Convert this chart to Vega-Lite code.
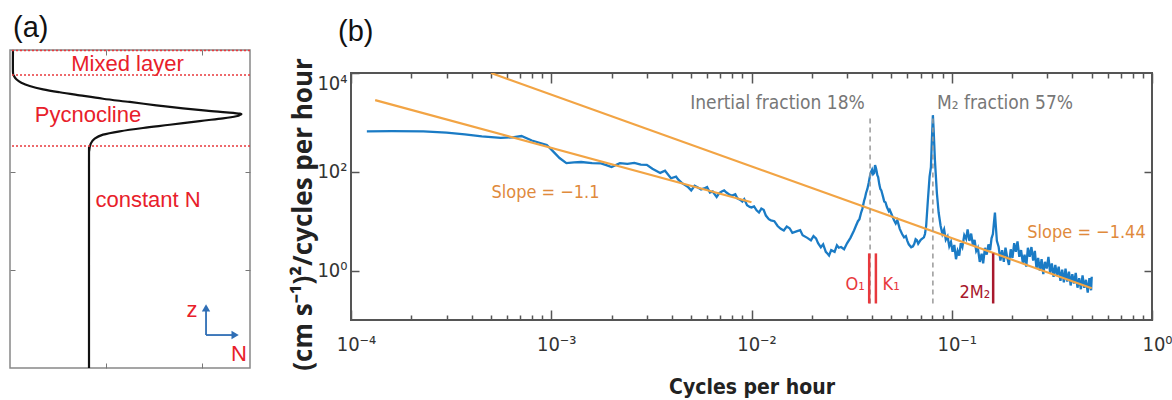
{
  "$schema": "https://vega.github.io/schema/vega-lite/v6.json",
  "background": "white",
  "padding": {"left": 7, "top": 12, "right": 0, "bottom": 0},
  "spacing": 36,
  "config": {
    "axis": {"domain": false, "grid": false},
    "view": {"stroke": "#777"}
  },
  "datasets": {
    "nprofile": [
      {"z": 3.25, "N": 0.031}, {"z": 3.025, "N": 0.031}, {"z": 2.984, "N": 0.042}, {"z": 2.951, "N": 0.066},
      {"z": 2.916, "N": 0.118}, {"z": 2.882, "N": 0.205}, {"z": 2.848, "N": 0.344}, {"z": 2.818, "N": 0.518},
      {"z": 2.787, "N": 0.726}, {"z": 2.752, "N": 0.969}, {"z": 2.719, "N": 1.247}, {"z": 2.685, "N": 1.524},
      {"z": 2.654, "N": 1.802}, {"z": 2.630, "N": 2.045}, {"z": 2.613, "N": 2.253}, {"z": 2.599, "N": 2.396},
      {"z": 2.589, "N": 2.399}, {"z": 2.573, "N": 2.357}, {"z": 2.552, "N": 2.219}, {"z": 2.524, "N": 1.976},
      {"z": 2.486, "N": 1.664}, {"z": 2.453, "N": 1.385}, {"z": 2.419, "N": 1.143}, {"z": 2.385, "N": 0.969},
      {"z": 2.344, "N": 0.882}, {"z": 2.293, "N": 0.841}, {"z": 2.225, "N": 0.826}, {"z": 2.037, "N": 0.823},
      {"z": 0.0, "N": 0.823}
    ],
    "layers_a": [{"z": 3.245}, {"z": 2.994}, {"z": 2.269}],
    "text_a": [
      {"label": "Mixed layer", "N": 1.224, "z": 3.107},
      {"label": "Pycnocline", "N": 0.8125, "z": 2.586},
      {"label": "constant N", "N": 1.4375, "z": 1.717},
      {"label": "z", "N": 1.896, "z": 0.593},
      {"label": "N", "N": 2.385, "z": 0.143}
    ],
    "shafts": [
      {"N1": 2.042, "N2": 2.042, "z1": 0.337, "z2": 0.6},
      {"N1": 2.042, "N2": 2.33, "z1": 0.337, "z2": 0.337}
    ],
    "heads": [
      {"dir": "up", "N": 2.042, "z": 0.615},
      {"dir": "right", "N": 2.345, "z": 0.337}
    ],
    "spectrum": [
      {"f": 0.00012, "p": 660}, {"f": 0.00016, "p": 665}, {"f": 0.00023, "p": 660}, {"f": 0.0003, "p": 620},
      {"f": 0.00037, "p": 575}, {"f": 0.00045, "p": 520}, {"f": 0.00056, "p": 485}, {"f": 0.00064, "p": 500},
      {"f": 0.00071, "p": 530}, {"f": 0.0008, "p": 430}, {"f": 0.00095, "p": 350}, {"f": 0.00103, "p": 250},
      {"f": 0.0011, "p": 190}, {"f": 0.00119, "p": 150}, {"f": 0.0013, "p": 155}, {"f": 0.00141, "p": 158},
      {"f": 0.0016, "p": 150}, {"f": 0.00177, "p": 148}, {"f": 0.0019, "p": 135}, {"f": 0.002, "p": 125},
      {"f": 0.0022, "p": 150}, {"f": 0.0024, "p": 145}, {"f": 0.0026, "p": 152}, {"f": 0.0028, "p": 140},
      {"f": 0.003, "p": 138}, {"f": 0.0032, "p": 115}, {"f": 0.0035, "p": 95}, {"f": 0.0037, "p": 105},
      {"f": 0.00396, "p": 74}, {"f": 0.0042, "p": 80}, {"f": 0.0043, "p": 70}, {"f": 0.0045, "p": 59},
      {"f": 0.0048, "p": 50}, {"f": 0.005, "p": 42}, {"f": 0.0052, "p": 52}, {"f": 0.0054, "p": 48},
      {"f": 0.0056, "p": 44}, {"f": 0.0058, "p": 46}, {"f": 0.006, "p": 49}, {"f": 0.0062, "p": 38},
      {"f": 0.0064, "p": 40}, {"f": 0.0067, "p": 31}, {"f": 0.0069, "p": 37}, {"f": 0.0071, "p": 40},
      {"f": 0.0073, "p": 42}, {"f": 0.0075, "p": 38}, {"f": 0.0078, "p": 34}, {"f": 0.008, "p": 33},
      {"f": 0.0083, "p": 35}, {"f": 0.0085, "p": 29}, {"f": 0.0088, "p": 27}, {"f": 0.009, "p": 25},
      {"f": 0.0092, "p": 28}, {"f": 0.0095, "p": 21}, {"f": 0.0098, "p": 19.5}, {"f": 0.01, "p": 19},
      {"f": 0.0103, "p": 20}, {"f": 0.0106, "p": 16.6}, {"f": 0.0109, "p": 15}, {"f": 0.0112, "p": 18},
      {"f": 0.0115, "p": 17}, {"f": 0.0118, "p": 13}, {"f": 0.0122, "p": 11}, {"f": 0.0125, "p": 10.4},
      {"f": 0.013, "p": 10}, {"f": 0.0135, "p": 8}, {"f": 0.014, "p": 7}, {"f": 0.0145, "p": 6.5},
      {"f": 0.015, "p": 7.8}, {"f": 0.0155, "p": 7.2}, {"f": 0.016, "p": 5.8}, {"f": 0.0169, "p": 6.3},
      {"f": 0.0175, "p": 6.6}, {"f": 0.018, "p": 5.2}, {"f": 0.019, "p": 4.6}, {"f": 0.0198, "p": 4.1},
      {"f": 0.0204, "p": 5.0}, {"f": 0.021, "p": 4.5}, {"f": 0.0215, "p": 3.6}, {"f": 0.0222, "p": 2.96},
      {"f": 0.0228, "p": 3.4}, {"f": 0.0235, "p": 2.4}, {"f": 0.024, "p": 2.2}, {"f": 0.0244, "p": 2.03},
      {"f": 0.025, "p": 2.6}, {"f": 0.026, "p": 2.4}, {"f": 0.0267, "p": 3.25}, {"f": 0.0273, "p": 2.9},
      {"f": 0.028, "p": 3.0}, {"f": 0.029, "p": 2.7}, {"f": 0.03, "p": 3.56}, {"f": 0.0312, "p": 4.6},
      {"f": 0.0325, "p": 6.5}, {"f": 0.0332, "p": 8}, {"f": 0.034, "p": 10}, {"f": 0.0346, "p": 11},
      {"f": 0.0352, "p": 14.5}, {"f": 0.0358, "p": 18}, {"f": 0.0365, "p": 26}, {"f": 0.0369, "p": 30},
      {"f": 0.0373, "p": 36.8}, {"f": 0.0379, "p": 45}, {"f": 0.0385, "p": 60}, {"f": 0.039, "p": 80},
      {"f": 0.0395, "p": 98}, {"f": 0.04, "p": 110}, {"f": 0.0405, "p": 90}, {"f": 0.041, "p": 95},
      {"f": 0.0414, "p": 136}, {"f": 0.0418, "p": 120}, {"f": 0.0422, "p": 100}, {"f": 0.0425, "p": 85},
      {"f": 0.0429, "p": 78}, {"f": 0.0435, "p": 55}, {"f": 0.044, "p": 45}, {"f": 0.0445, "p": 42},
      {"f": 0.0449, "p": 36.8}, {"f": 0.0455, "p": 30}, {"f": 0.046, "p": 25}, {"f": 0.0467, "p": 24},
      {"f": 0.0475, "p": 19.1}, {"f": 0.0485, "p": 16}, {"f": 0.049, "p": 17}, {"f": 0.05, "p": 14},
      {"f": 0.0515, "p": 10.4}, {"f": 0.0525, "p": 9}, {"f": 0.0535, "p": 10.5}, {"f": 0.055, "p": 7},
      {"f": 0.0565, "p": 5.5}, {"f": 0.0578, "p": 4.71}, {"f": 0.059, "p": 5}, {"f": 0.06, "p": 4},
      {"f": 0.061, "p": 3.4}, {"f": 0.0627, "p": 2.96}, {"f": 0.064, "p": 3.1}, {"f": 0.065, "p": 3.5},
      {"f": 0.066, "p": 4.3}, {"f": 0.067, "p": 4.1}, {"f": 0.068, "p": 3.5}, {"f": 0.07, "p": 4.2},
      {"f": 0.0715, "p": 4.5}, {"f": 0.0726, "p": 4.7}, {"f": 0.0735, "p": 5.5}, {"f": 0.0745, "p": 8},
      {"f": 0.076, "p": 26.5}, {"f": 0.0775, "p": 80}, {"f": 0.0787, "p": 124}, {"f": 0.0795, "p": 400},
      {"f": 0.0805, "p": 1400}, {"f": 0.0812, "p": 700}, {"f": 0.0824, "p": 172}, {"f": 0.0843, "p": 36.8},
      {"f": 0.086, "p": 15},
      {"f": 0.088, "p": 8}, {"f": 0.0898, "p": 5.5}, {"f": 0.0916, "p": 6.8}, {"f": 0.0934, "p": 4.2},
      {"f": 0.0953, "p": 4.9}, {"f": 0.0972, "p": 3.1}, {"f": 0.0991, "p": 3.8}, {"f": 0.101, "p": 2.4},
      {"f": 0.103, "p": 3.3}, {"f": 0.105, "p": 1.7}, {"f": 0.107, "p": 2.5}, {"f": 0.109, "p": 2.0},
      {"f": 0.111, "p": 3.6}, {"f": 0.113, "p": 3.0}, {"f": 0.1155, "p": 5.2}, {"f": 0.118, "p": 4.4},
      {"f": 0.12, "p": 6.8}, {"f": 0.1225, "p": 4.0}, {"f": 0.125, "p": 5.6}, {"f": 0.1275, "p": 3.3},
      {"f": 0.13, "p": 4.2}, {"f": 0.1325, "p": 2.5}, {"f": 0.135, "p": 2.9}, {"f": 0.138, "p": 1.5},
      {"f": 0.141, "p": 2.2}, {"f": 0.1435, "p": 1.4}, {"f": 0.1465, "p": 2.9}, {"f": 0.1495, "p": 2.1},
      {"f": 0.1525, "p": 3.4}, {"f": 0.1555, "p": 2.6}, {"f": 0.158, "p": 4.5}, {"f": 0.1605, "p": 5.5},
      {"f": 0.1625, "p": 9.5}, {"f": 0.1643, "p": 15}, {"f": 0.166, "p": 8}, {"f": 0.168, "p": 4.0},
      {"f": 0.1715, "p": 3.0}, {"f": 0.175, "p": 1.6}, {"f": 0.1785, "p": 2.6}, {"f": 0.182, "p": 1.5},
      {"f": 0.1855, "p": 2.9}, {"f": 0.189, "p": 1.9}, {"f": 0.193, "p": 1.3}, {"f": 0.197, "p": 2.7},
      {"f": 0.201, "p": 1.8}, {"f": 0.205, "p": 3.6}, {"f": 0.209, "p": 2.4}, {"f": 0.213, "p": 3.9},
      {"f": 0.2175, "p": 1.9}, {"f": 0.222, "p": 2.6}, {"f": 0.2265, "p": 1.4}, {"f": 0.231, "p": 2.1},
      {"f": 0.2355, "p": 1.2}, {"f": 0.24, "p": 2.9}, {"f": 0.245, "p": 1.9}, {"f": 0.25, "p": 3.0},
      {"f": 0.255, "p": 1.6}, {"f": 0.26, "p": 2.5}, {"f": 0.265, "p": 1.1}, {"f": 0.27, "p": 1.8},
      {"f": 0.2755, "p": 1.0}, {"f": 0.281, "p": 1.7}, {"f": 0.2865, "p": 0.85}, {"f": 0.292, "p": 1.5},
      {"f": 0.298, "p": 1.1}, {"f": 0.304, "p": 1.9}, {"f": 0.31, "p": 0.9}, {"f": 0.316, "p": 1.4},
      {"f": 0.3225, "p": 0.75}, {"f": 0.329, "p": 1.3}, {"f": 0.3355, "p": 0.8}, {"f": 0.342, "p": 1.2},
      {"f": 0.349, "p": 0.62}, {"f": 0.356, "p": 1.05}, {"f": 0.363, "p": 0.58}, {"f": 0.37, "p": 1.1},
      {"f": 0.3775, "p": 0.6}, {"f": 0.385, "p": 0.95}, {"f": 0.3925, "p": 0.5}, {"f": 0.4, "p": 0.85},
      {"f": 0.408, "p": 0.55}, {"f": 0.416, "p": 0.9}, {"f": 0.4245, "p": 0.45}, {"f": 0.433, "p": 0.7},
      {"f": 0.4415, "p": 0.42}, {"f": 0.45, "p": 0.8}, {"f": 0.459, "p": 0.45}, {"f": 0.468, "p": 0.65},
      {"f": 0.4775, "p": 0.36}, {"f": 0.487, "p": 0.7}, {"f": 0.4965, "p": 0.4}, {"f": 0.5, "p": 0.75}
    ],
    "fits": [
      {"fit": "low", "f": 0.000132, "p": 2830}, {"fit": "low", "f": 0.01, "p": 24.2},
      {"fit": "high", "f": 0.0005, "p": 10000}, {"fit": "high", "f": 0.5, "p": 0.44}
    ],
    "dashed": [
      {"f": 0.0391, "p1": 0.216, "p2": 1450},
      {"f": 0.0805, "p1": 0.216, "p2": 1450}
    ],
    "tidal": [
      {"c": "O1", "f": 0.0387, "p1": 0.216, "p2": 2.23},
      {"c": "K1", "f": 0.0418, "p1": 0.216, "p2": 2.23},
      {"c": "2M2", "f": 0.161, "p1": 0.216, "p2": 2.23}
    ],
    "tidal_labels": [
      {"c": "O1", "label": "O₁", "f": 0.0329, "p": 0.5},
      {"c": "K1", "label": "K₁", "f": 0.0498, "p": 0.5},
      {"c": "2M2", "label": "2M₂", "f": 0.1305, "p": 0.344}
    ],
    "annot_gray": [
      {"label": "Inertial fraction 18%", "f": 0.01349, "p": 2450},
      {"label": "M₂ fraction 57%", "f": 0.1845, "p": 2450}
    ],
    "annot_orange": [
      {"label": "Slope = −1.1", "f": 0.000936, "p": 36.8},
      {"label": "Slope = −1.44", "f": 0.471, "p": 5.69}
    ]
  },
  "hconcat": [
    {
      "title": {"text": "(a)", "anchor": "start", "frame": "group", "dx": 3, "offset": 3, "fontSize": 29, "font": "Liberation Sans", "fontWeight": "normal", "color": "#111"},
      "width": 240,
      "height": 318,
      "view": {"stroke": "#888", "strokeWidth": 1.5},
      "resolve": {"axis": {"x": "independent", "y": "independent"}},
      "layer": [
        {
          "data": {"name": "nprofile"},
          "mark": {"type": "line", "color": "#111", "strokeWidth": 2.2, "interpolate": "cardinal"},
          "encoding": {
            "x": {"field": "N", "type": "quantitative", "scale": {"domain": [0, 2.5], "nice": false, "zero": false},
                  "axis": {"orient": "bottom", "values": [1, 2], "labels": false, "title": null, "tickSize": -5, "tickColor": "#777"}},
            "y": {"field": "z", "type": "quantitative", "scale": {"domain": [0, 3.25], "nice": false, "zero": false},
                  "axis": {"orient": "left", "values": [1, 2], "labels": false, "title": null, "tickSize": -5, "tickColor": "#777"}},
            "order": {"field": "z", "type": "quantitative"}
          }
        },
        {
          "data": {"name": "layers_a"},
          "mark": {"type": "rule", "color": "#E8383D", "strokeDash": [2, 2], "strokeWidth": 1.5},
          "encoding": {
            "y": {"field": "z", "type": "quantitative", "scale": {"domain": [0, 3.25], "nice": false, "zero": false}, "axis": null}
          }
        },
        {
          "data": {"name": "text_a"},
          "mark": {"type": "text", "color": "#E8202A", "font": "Liberation Sans", "fontSize": 22, "align": "center", "baseline": "middle"},
          "encoding": {
            "x": {"field": "N", "type": "quantitative", "scale": {"domain": [0, 2.5], "nice": false, "zero": false},
                  "axis": {"orient": "top", "values": [1, 2], "labels": false, "title": null, "tickSize": -5, "tickColor": "#777"}},
            "y": {"field": "z", "type": "quantitative", "scale": {"domain": [0, 3.25], "nice": false, "zero": false},
                  "axis": {"orient": "right", "values": [1, 2], "labels": false, "title": null, "tickSize": -5, "tickColor": "#777"}},
            "text": {"field": "label", "type": "nominal"}
          }
        },
        {
          "data": {"name": "shafts"},
          "mark": {"type": "rule", "color": "#2F6EB5", "strokeWidth": 1.8},
          "encoding": {
            "x": {"field": "N1", "type": "quantitative", "scale": {"domain": [0, 2.5], "nice": false, "zero": false}, "axis": null},
            "x2": {"field": "N2"},
            "y": {"field": "z1", "type": "quantitative", "scale": {"domain": [0, 3.25], "nice": false, "zero": false}, "axis": null},
            "y2": {"field": "z2"}
          }
        },
        {
          "data": {"name": "heads"},
          "mark": {"type": "point", "filled": true, "color": "#2F6EB5", "opacity": 1, "size": 70},
          "encoding": {
            "x": {"field": "N", "type": "quantitative", "scale": {"domain": [0, 2.5], "nice": false, "zero": false}, "axis": null},
            "y": {"field": "z", "type": "quantitative", "scale": {"domain": [0, 3.25], "nice": false, "zero": false}, "axis": null},
            "shape": {"field": "dir", "type": "nominal", "scale": {"domain": ["up", "right"], "range": ["triangle-up", "triangle-right"]}, "legend": null}
          }
        }
      ]
    },
    {
      "title": {"text": "(b)", "anchor": "start", "frame": "group", "dx": -13, "offset": 3, "fontSize": 29, "font": "Liberation Sans", "fontWeight": "normal", "color": "#111"},
      "spacing": 5,
      "vconcat": [
        {
          "width": 801,
          "height": 1,
          "view": {"stroke": null},
          "data": {"values": [{"k": 0}]},
          "mark": {"type": "point", "size": 0, "opacity": 0}
        },
        {
          "width": 801,
          "height": 247,
          "view": {"stroke": "#555", "strokeWidth": 2},
          "resolve": {"axis": {"x": "independent", "y": "independent"}},
          "layer": [
            {
              "data": {"name": "spectrum"},
              "mark": {"type": "line", "color": "#1A7BC5", "strokeWidth": 2.3, "clip": true},
              "encoding": {
                "x": {"field": "f", "type": "quantitative", "scale": {"type": "log", "domain": [0.0001, 1], "nice": false},
                      "axis": {"orient": "bottom",
                               "values": [0.0001,0.0002,0.0003,0.0004,0.0005,0.0006,0.0007,0.0008,0.0009,0.001,0.002,0.003,0.004,0.005,0.006,0.007,0.008,0.009,0.01,0.02,0.03,0.04,0.05,0.06,0.07,0.08,0.09,0.1,0.2,0.3,0.4,0.5,0.6,0.7,0.8,0.9,1],
                               "labelExpr": "datum.value == 0.0001 ? '10⁻⁴' : datum.value == 0.001 ? '10⁻³' : datum.value == 0.01 ? '10⁻²' : datum.value == 0.1 ? '10⁻¹' : datum.value == 1 ? '10⁰' : ''",
                               "tickSize": {"condition": {"test": "indexof([0.0001,0.001,0.01,0.1,1], datum.value) >= 0", "value": -10}, "value": -5},
                               "tickColor": "#555", "tickWidth": 1.5,
                               "labelFont": "DejaVu Sans Condensed, Liberation Sans, sans-serif", "labelFontSize": 20, "labelColor": "#333",
                               "labelPadding": 24, "labelOffset": 5, "labelFlush": false, "labelOverlap": false,
                               "title": "Cycles per hour", "titleFont": "DejaVu Sans Condensed, Liberation Sans, sans-serif", "titleFontSize": 21,
                               "titleFontWeight": "bold", "titleColor": "#222", "titlePadding": 17}},
                "y": {"field": "p", "type": "quantitative", "scale": {"type": "log", "domain": [0.1, 10000], "nice": false},
                      "axis": {"orient": "left", "values": [1, 100, 10000],
                               "labelExpr": "datum.value == 1 ? '10⁰' : datum.value == 100 ? '10²' : '10⁴'",
                               "tickSize": -8, "tickColor": "#555", "tickWidth": 1.5,
                               "labelFont": "DejaVu Sans Condensed, Liberation Sans, sans-serif", "labelFontSize": 20, "labelColor": "#333",
                               "labelPadding": 12, "labelFlush": true,
                               "title": "(cm s⁻¹)²/cycles per hour", "titleFont": "Open Sans", "titleFontSize": 26,
                               "titleFontWeight": "bold", "titleColor": "#222", "titleX": -48, "titleY": 141,
                               "titleAngle": -90, "titleAlign": "center", "titleBaseline": "middle"}}
              }
            },
            {
              "data": {"name": "fits"},
              "mark": {"type": "line", "color": "#F2A444", "strokeWidth": 2.2, "clip": true},
              "encoding": {
                "x": {"field": "f", "type": "quantitative", "scale": {"type": "log", "domain": [0.0001, 1], "nice": false},
                      "axis": {"orient": "top",
                               "values": [0.0001,0.0002,0.0003,0.0004,0.0005,0.0006,0.0007,0.0008,0.0009,0.001,0.002,0.003,0.004,0.005,0.006,0.007,0.008,0.009,0.01,0.02,0.03,0.04,0.05,0.06,0.07,0.08,0.09,0.1,0.2,0.3,0.4,0.5,0.6,0.7,0.8,0.9,1],
                               "labels": false, "title": null,
                               "tickSize": {"condition": {"test": "indexof([0.0001,0.001,0.01,0.1,1], datum.value) >= 0", "value": -10}, "value": -5},
                               "tickColor": "#555", "tickWidth": 1.5}},
                "y": {"field": "p", "type": "quantitative", "scale": {"type": "log", "domain": [0.1, 10000], "nice": false},
                      "axis": {"orient": "right", "values": [1, 100], "labels": false, "title": null,
                               "tickSize": -8, "tickColor": "#555", "tickWidth": 1.5}},
                "detail": {"field": "fit", "type": "nominal"}
              }
            },
            {
              "data": {"name": "dashed"},
              "mark": {"type": "rule", "color": "#999999", "strokeDash": [5, 4], "strokeWidth": 1.5},
              "encoding": {
                "x": {"field": "f", "type": "quantitative", "scale": {"type": "log", "domain": [0.0001, 1], "nice": false}, "axis": null},
                "y": {"field": "p1", "type": "quantitative", "scale": {"type": "log", "domain": [0.1, 10000], "nice": false}, "axis": null},
                "y2": {"field": "p2"}
              }
            },
            {
              "data": {"name": "tidal"},
              "mark": {"type": "rule", "strokeWidth": 2.5},
              "encoding": {
                "x": {"field": "f", "type": "quantitative", "scale": {"type": "log", "domain": [0.0001, 1], "nice": false}, "axis": null},
                "y": {"field": "p1", "type": "quantitative", "scale": {"type": "log", "domain": [0.1, 10000], "nice": false}, "axis": null},
                "y2": {"field": "p2"},
                "color": {"field": "c", "type": "nominal", "scale": {"domain": ["O1", "K1", "2M2"], "range": ["#E8383D", "#E8383D", "#A8182C"]}, "legend": null}
              }
            },
            {
              "data": {"name": "tidal_labels"},
              "mark": {"type": "text", "font": "DejaVu Sans Condensed, Liberation Sans, sans-serif", "fontSize": 18, "align": "center", "baseline": "middle"},
              "encoding": {
                "x": {"field": "f", "type": "quantitative", "scale": {"type": "log", "domain": [0.0001, 1], "nice": false}, "axis": null},
                "y": {"field": "p", "type": "quantitative", "scale": {"type": "log", "domain": [0.1, 10000], "nice": false}, "axis": null},
                "text": {"field": "label", "type": "nominal"},
                "color": {"field": "c", "type": "nominal", "scale": {"domain": ["O1", "K1", "2M2"], "range": ["#E8383D", "#E8383D", "#A8182C"]}, "legend": null}
              }
            },
            {
              "data": {"name": "annot_gray"},
              "mark": {"type": "text", "font": "DejaVu Sans Condensed, Liberation Sans, sans-serif", "fontSize": 19, "color": "#777777", "align": "center", "baseline": "middle"},
              "encoding": {
                "x": {"field": "f", "type": "quantitative", "scale": {"type": "log", "domain": [0.0001, 1], "nice": false}, "axis": null},
                "y": {"field": "p", "type": "quantitative", "scale": {"type": "log", "domain": [0.1, 10000], "nice": false}, "axis": null},
                "text": {"field": "label", "type": "nominal"}
              }
            },
            {
              "data": {"name": "annot_orange"},
              "mark": {"type": "text", "font": "DejaVu Sans Condensed, Liberation Sans, sans-serif", "fontSize": 18, "color": "#E08A3C", "align": "center", "baseline": "middle"},
              "encoding": {
                "x": {"field": "f", "type": "quantitative", "scale": {"type": "log", "domain": [0.0001, 1], "nice": false}, "axis": null},
                "y": {"field": "p", "type": "quantitative", "scale": {"type": "log", "domain": [0.1, 10000], "nice": false}, "axis": null},
                "text": {"field": "label", "type": "nominal"}
              }
            }
          ]
        }
      ]
    }
  ]
}
